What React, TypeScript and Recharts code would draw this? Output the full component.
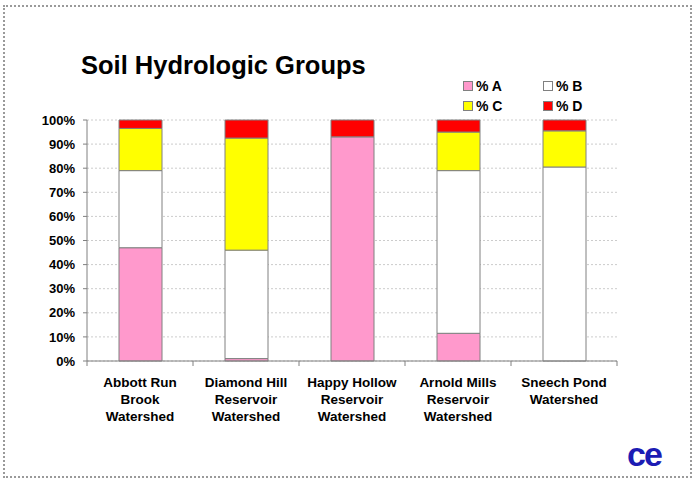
import { BarChart, Bar, XAxis, YAxis, CartesianGrid } from 'recharts'

// Soil hydrologic group shares per watershed (percent, stacked to 100)
const CATEGORIES = [
  'Abbott Run\nBrook\nWatershed',
  'Diamond Hill\nReservoir\nWatershed',
  'Happy Hollow\nReservoir\nWatershed',
  'Arnold Mills\nReservoir\nWatershed',
  'Sneech Pond\nWatershed',
]
const PCT_A = [47, 1, 93, 11.5, 0]
const PCT_B = [32, 45, 0, 67.5, 80.5]
const PCT_C = [17.5, 46.5, 0, 16, 15]
const PCT_D = [3.5, 7.5, 7, 5, 4.5]
const Y_TICKS = [0, 10, 20, 30, 40, 50, 60, 70, 80, 90, 100]

const SERIES = [
  { key: 'a', name: '% A', color: '#ff99cc' },
  { key: 'b', name: '% B', color: '#ffffff' },
  { key: 'c', name: '% C', color: '#ffff00' },
  { key: 'd', name: '% D', color: '#ff0000' },
]

const data = CATEGORIES.map((name, i) => ({
  name,
  a: PCT_A[i],
  b: PCT_B[i],
  c: PCT_C[i],
  d: PCT_D[i],
}))

const FONT = '"Liberation Sans", Arial, sans-serif'
const HALF_BAND = 53 // plot is 530px wide, 5 categories

// multi-line category label plus tick marks between categories
function CategoryTick(props: any) {
  const { x, y, payload, index, visibleTicksCount } = props
  const lines = String(payload.value).split('\n')
  const axisY = y - 5
  return (
    <g>
      <line x1={x - HALF_BAND} x2={x - HALF_BAND} y1={axisY} y2={axisY + 5} stroke="#808080" />
      {index === visibleTicksCount - 1 && (
        <line x1={x + HALF_BAND} x2={x + HALF_BAND} y1={axisY} y2={axisY + 5} stroke="#808080" />
      )}
      <text x={x} y={axisY + 26} textAnchor="middle" fontSize={13.5} fontWeight="bold" fill="#000" fontFamily={FONT}>
        {lines.map((l, i) => (
          <tspan key={i} x={x} dy={i === 0 ? 0 : 17}>
            {l}
          </tspan>
        ))}
      </text>
    </g>
  )
}

export default function App() {
  return (
    <div
      style={{
        position: 'absolute',
        left: 0,
        top: 0,
        width: 697,
        height: 484,
        background: '#fff',
        fontFamily: FONT,
        overflow: 'hidden',
      }}
    >
      {/* dotted frame */}
      <div
        style={{
          position: 'absolute',
          left: 3,
          top: 5,
          width: 689,
          height: 473,
          border: '2px dotted #9a9a9a',
          boxSizing: 'border-box',
        }}
      />

      <div
        style={{
          position: 'absolute',
          left: 81,
          top: 50,
          fontSize: 25.5,
          fontWeight: 'bold',
          lineHeight: '30px',
          color: '#000',
          whiteSpace: 'nowrap',
        }}
      >
        Soil Hydrologic Groups
      </div>

      {/* legend, two columns */}
      <div
        style={{
          position: 'absolute',
          left: 463,
          top: 78,
          display: 'grid',
          gridTemplateColumns: '80px 80px',
          rowGap: 4,
          fontSize: 14,
          fontWeight: 'bold',
          lineHeight: '16px',
        }}
      >
        {SERIES.map((s) => (
          <div key={s.key} style={{ display: 'flex', alignItems: 'center' }}>
            <span
              style={{
                display: 'inline-block',
                width: 8,
                height: 8,
                background: s.color,
                border: '1px solid #808080',
                marginRight: 3,
              }}
            />
            {s.name}
          </div>
        ))}
      </div>

      <div style={{ position: 'absolute', left: 0, top: 0 }}>
        <BarChart
          width={697}
          height={484}
          data={data}
          margin={{ top: 120, right: 80, bottom: 63, left: 0 }}
          barSize={43}
        >
          <CartesianGrid vertical={false} stroke="#cccccc" strokeDasharray="2 2" />
          <XAxis
            dataKey="name"
            height={60}
            tickSize={5}
            tickMargin={0}
            tickLine={false}
            stroke="#808080"
            interval={0}
            tick={<CategoryTick />}
          />
          <YAxis
            width={87}
            domain={[0, 100]}
            ticks={Y_TICKS}
            tickFormatter={(v) => `${v}%`}
            tickSize={4}
            tickMargin={8}
            stroke="#808080"
            tick={{ fontSize: 13, fontWeight: 'bold', fill: '#000', fontFamily: FONT }}
          />
          {SERIES.map((s) => (
            <Bar
              key={s.key}
              dataKey={s.key}
              name={s.name}
              stackId="soil"
              fill={s.color}
              stroke="#808080"
              strokeWidth={1}
              isAnimationActive={false}
            />
          ))}
        </BarChart>
      </div>

      {/* corner logo */}
      <div
        style={{
          position: 'absolute',
          left: 627,
          top: 436,
          fontSize: 34,
          fontWeight: 'bold',
          color: '#1c1cb4',
          letterSpacing: -2,
          lineHeight: '36px',
        }}
      >
        ce
      </div>
    </div>
  )
}
